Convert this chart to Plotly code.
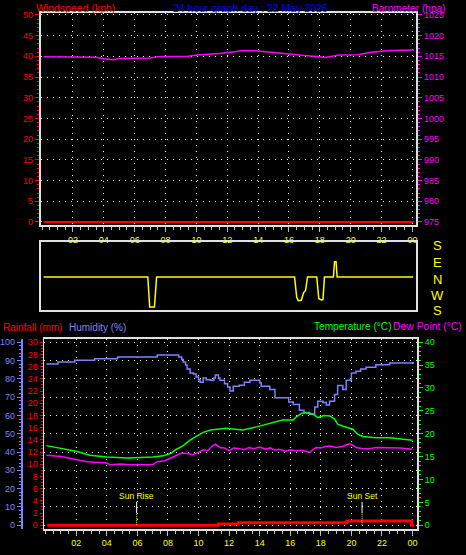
import plotly.graph_objects as go

# ---------------- data ----------------
hour_labels = ["02", "04", "06", "08", "10", "12", "14", "16", "18", "20", "22", "00"]
hour_ticks = [2, 4, 6, 8, 10, 12, 14, 16, 18, 20, 22, 24]

wind_hours = [0.1, 24.1]
wind_speed = [0, 0]

baro_hours = [0.1, 3.5, 4.0, 4.6, 5.0, 7.0, 7.5, 9.5, 10.0, 10.5, 11.5, 12.5, 13.0, 14.0,
              15.0, 16.0, 17.0, 18.0, 18.3, 19.3, 20.5, 21.2, 22.5, 24.1]
baro_hpa = [1014.9, 1014.8, 1014.4, 1014.2, 1014.5, 1014.6, 1014.9, 1015.0, 1015.3, 1015.4,
            1015.7, 1016.1, 1016.4, 1016.3, 1015.9, 1015.5, 1015.2, 1014.9, 1014.7, 1015.3,
            1015.4, 1015.9, 1016.4, 1016.5]

dir_hours = [0.1, 6.85, 6.97, 7.28, 7.42, 16.36, 16.5, 16.6, 16.8, 16.95, 17.07, 17.2,
             17.8, 17.93, 18.1, 18.2, 18.3, 18.88, 18.95, 19.05, 19.12, 24.05]
dir_deg = [0, 0, 201, 201, 0, 0, 252, 234, 236, 277, 287, 0,
           0, 244, 238, 240, 0, 0, 81, 81, 0, 0]

rain_hours = [0.1, 11.3, 12.6, 19.7, 23.95, 24.1]
rain_mm = [0.0, 0.2, 0.4, 0.7, 0.0, 0.0]

hum_hours = [0.05, 0.8, 1.9, 3.2, 4.7, 7.3, 8.7, 8.9, 9.0, 9.15, 9.25, 9.45, 9.67, 9.84,
             10.0, 10.1, 10.3, 10.5, 10.75, 11.0, 11.1, 11.3, 11.4, 11.7, 11.9, 12.06,
             12.27, 12.66, 13.0, 13.36, 14.0, 14.1, 14.66, 15.0, 15.5, 15.9, 16.2, 16.6,
             16.9, 17.27, 17.6, 17.8, 18.14, 18.36, 18.57, 18.9, 19.1, 19.44, 19.66, 20.0,
             20.3, 20.6, 20.96, 21.6, 22.5, 24.05]
hum_pct = [88.1, 89.2, 90.2, 91.0, 91.9, 93.0, 91.9, 90.5, 89.2, 87.5, 85.4, 83.2, 82.7,
           81.0, 79.5, 78.1, 80.5, 79.5, 79.2, 80.5, 82.1, 80.5, 79.2, 77.3, 75.5, 73.3,
           76.0, 76.5, 78.1, 79.2, 77.8, 76.0, 74.2, 69.7, 69.7, 67.3, 66.0, 62.8, 61.6,
           60.6, 64.6, 67.8, 67.0, 65.7, 67.8, 71.5, 76.3, 74.2, 79.2, 83.2, 84.1, 85.4,
           86.3, 87.7, 88.6, 89.2]

temp_hours = [0.05, 0.7, 1.2, 1.6, 2.07, 2.5, 2.9, 4.0, 5.4, 7.0, 7.7, 8.2, 8.5, 9.0, 9.4,
              9.85, 10.3, 10.8, 11.8, 12.4, 12.9, 13.8, 14.7, 15.5, 16.2, 16.4, 16.75,
              17.05, 17.5, 17.8, 18.2, 18.6, 18.9, 19.1, 19.5, 20.1, 20.4, 20.75, 21.6,
              22.5, 23.1, 24.0]
temp_c = [17.4, 17.0, 16.8, 16.5, 16.1, 15.7, 15.3, 14.9, 14.7, 14.9, 15.2, 15.7, 16.5,
          17.4, 18.5, 19.4, 20.3, 20.8, 21.2, 21.0, 20.8, 21.5, 22.3, 23.0, 23.0, 23.7,
          24.5, 24.6, 24.3, 23.5, 24.0, 23.9, 23.2, 22.1, 21.6, 21.0, 19.9, 19.4, 19.1,
          19.1, 18.9, 18.6]

dew_hours = [0.05, 1.0, 1.8, 2.7, 4.0, 4.2, 4.9, 5.5, 7.0, 7.3, 7.8, 8.3, 8.9, 9.3, 9.6,
             9.85, 10.3, 10.6, 10.9, 11.1, 11.4, 11.7, 12.0, 12.3, 12.6, 13.0, 13.3, 13.6,
             14.0, 14.4, 14.7, 15.0, 15.3, 15.7, 16.0, 16.4, 16.8, 17.3, 17.5, 17.7, 18.0,
             18.3, 18.6, 19.0, 19.4, 19.7, 19.9, 20.1, 20.3, 20.7, 21.2, 21.6, 22.5, 23.2,
             24.0]
dew_c = [15.3, 15.0, 14.5, 13.9, 13.6, 13.2, 13.4, 13.2, 13.2, 13.9, 14.1, 14.9, 15.8,
         15.7, 15.4, 15.7, 16.5, 16.3, 17.3, 17.7, 17.0, 16.9, 16.3, 16.9, 16.8, 16.5,
         17.0, 16.7, 17.1, 16.6, 16.9, 16.4, 16.6, 16.2, 16.5, 16.3, 16.4, 15.9, 16.6,
         17.0, 16.9, 17.2, 17.3, 17.0, 17.2, 17.6, 17.8, 17.5, 17.0, 16.8, 16.7, 17.0,
         17.0, 16.9, 16.6]

sun_rise = 5.95
sun_set = 20.7

# ---------------- helpers (layout only) ----------------
W, H = 466, 555


def px_x(v):
    return v / W


def px_y(v):
    return 1 - v / H


def compass_to_axis(d):
    return d if d <= 180 else d - 360


dir_plot = [compass_to_axis(d) for d in dir_deg]

FONT = "Liberation Sans, Arial, sans-serif"
LINE = "#e0e0e0"
GRID = dict(showgrid=True, gridcolor="#ffffff", gridwidth=1, griddash="1px,5px")
RED, MAG, GRN, YEL, HUM, BLU = "#ff0000", "#ff00ff", "#00ff00", "#ffff00", "#8080ff", "#0000ff"

fig = go.Figure()

# top panel
fig.add_trace(go.Scatter(x=baro_hours, y=baro_hpa, xaxis="x", yaxis="y2", mode="lines",
                         line=dict(color=MAG, width=1.5)))
fig.add_trace(go.Scatter(x=wind_hours, y=wind_speed, xaxis="x", yaxis="y", mode="lines",
                         line=dict(color=RED, width=2)))
# direction panel
fig.add_trace(go.Scatter(x=dir_hours, y=dir_plot, xaxis="x2", yaxis="y3", mode="lines",
                         line=dict(color=YEL, width=1.5)))
# bottom panel
fig.add_trace(go.Scatter(x=rain_hours, y=rain_mm, xaxis="x3", yaxis="y4", mode="lines",
                         line=dict(color=RED, width=3, shape="hv")))
fig.add_trace(go.Scatter(x=hum_hours, y=hum_pct, xaxis="x3", yaxis="y5", mode="lines",
                         line=dict(color=HUM, width=1.5, shape="hv")))
fig.add_trace(go.Scatter(x=temp_hours, y=temp_c, xaxis="x3", yaxis="y6", mode="lines",
                         line=dict(color=GRN, width=1.5)))
fig.add_trace(go.Scatter(x=dew_hours, y=dew_c, xaxis="x3", yaxis="y6", mode="lines",
                         line=dict(color=MAG, width=1.5)))

xtop = dict(domain=[px_x(40), px_x(417)], range=[-0.084, 24.245],
            tickvals=hour_ticks, ticktext=hour_labels,
            tickfont=dict(color=YEL, size=9), ticks="outside", ticklen=5, tickcolor="#c0c0c0",
            minor=dict(dtick=0.5, tick0=0, ticks="outside", ticklen=3, tickcolor="#c0c0c0",
                       showgrid=False),
            showline=True, linecolor=LINE, linewidth=2, mirror=True, zeroline=False, **GRID)

xbot = dict(xtop)
xbot.update(domain=[px_x(42.7), px_x(417.7)], range=[-0.143, 24.287], anchor="y4")

fig.update_layout(
    width=W, height=H, margin=dict(l=0, r=0, t=0, b=0),
    paper_bgcolor="#000000", plot_bgcolor="#000000", showlegend=False,
    font=dict(family=FONT, size=9),
    xaxis=dict(xtop, anchor="y"),
    yaxis=dict(domain=[px_y(224), px_y(10)], range=[-0.72, 50.48], anchor="x",
               tickvals=list(range(0, 51, 5)), tickfont=dict(color=RED, size=9),
               ticks="outside", ticklen=4, tickcolor=RED,
               minor=dict(dtick=1, ticks="outside", ticklen=2, tickcolor=RED, showgrid=False),
               showline=True, linecolor=LINE, linewidth=2, zeroline=False, **GRID),
    yaxis2=dict(overlaying="y", side="right", anchor="x", range=[974.28, 1025.48],
                tickvals=list(range(975, 1026, 5)), tickfont=dict(color=MAG, size=9),
                ticks="outside", ticklen=4, tickcolor=MAG,
                minor=dict(dtick=1, ticks="outside", ticklen=2, tickcolor=MAG, showgrid=False),
                showline=True, linecolor=LINE, linewidth=2, showgrid=False, zeroline=False),
    xaxis2=dict(domain=[px_x(40), px_x(417)], range=[-0.084, 24.245], anchor="y3",
                showticklabels=False, ticks="", showline=True, mirror=True, linecolor=LINE,
                linewidth=1.5, showgrid=False, zeroline=False),
    yaxis3=dict(domain=[px_y(309.3), px_y(241)], range=[-173, 187], anchor="x2",
                showticklabels=False, ticks="", showline=True, mirror=True, linecolor=LINE,
                linewidth=1.5, showgrid=False, zeroline=False),
    xaxis3=xbot,
    yaxis4=dict(domain=[px_y(530.3), px_y(339.5)], range=[-0.537, 30.456], anchor="x3",
                tickvals=list(range(0, 31, 2)), tickfont=dict(color=RED, size=9),
                ticks="outside", ticklen=3, tickcolor=RED,
                minor=dict(dtick=0.5, ticks="outside", ticklen=2, tickcolor=RED, showgrid=False),
                showline=True, linecolor=LINE, linewidth=1, showgrid=False, zeroline=False),
    yaxis5=dict(overlaying="y4", anchor="free", position=px_x(21), side="left",
                range=[-1.79, 101.52], tickvals=list(range(0, 101, 10)),
                tickfont=dict(color=HUM, size=9), ticks="outside", ticklen=4, tickcolor=HUM,
                minor=dict(dtick=2, ticks="outside", ticklen=2, tickcolor=HUM, showgrid=False),
                showline=True, linecolor=HUM, linewidth=2, zeroline=False, **GRID),
    yaxis6=dict(overlaying="y4", side="right", anchor="x3", range=[-0.716, 40.61],
                tickvals=list(range(0, 41, 5)), tickfont=dict(color=GRN, size=9),
                ticks="outside", ticklen=4, tickcolor=GRN,
                minor=dict(dtick=1, ticks="outside", ticklen=2, tickcolor=GRN, showgrid=False),
                showline=True, linecolor=LINE, linewidth=2, showgrid=False, zeroline=False),
)

ann = []


def label(text, x, y, color, size=10.5, xanchor="left"):
    ann.append(dict(text=text, x=px_x(x), y=px_y(y), xref="paper", yref="paper",
                    xanchor=xanchor, yanchor="middle", showarrow=False,
                    font=dict(color=color, size=size, family=FONT)))


label("Windspeed (kph)", 33.5, 5.5, RED, 10.5)
label("24 hour graph day : 22 May 2026", 171, 5.5, BLU, 10.5)
label("Barometer (hpa)", 371, 5.5, MAG, 10.1)
label("Rainfall (mm)", -0.5, 327, RED, 10)
label("Humidity (%)", 66, 327, HUM, 10)
label("Temperature (°C)", 312, 326.5, GRN, 10.1)
label("Dew Point (°C)", 391.5, 326.5, MAG, 10.4)

for t, yy in zip(["S", "E", "N", "W", "S"], [244.7, 262.3, 279.2, 294.7, 310.7]):
    label(t, 438.7, yy, YEL, 13, xanchor="center")

for name, t in (("Sun Rise", sun_rise), ("Sun Set", sun_set)):
    ann.append(dict(text=name, x=t, xref="x3", y=px_y(497.7), yref="paper",
                    xanchor="center", yanchor="middle", showarrow=False,
                    font=dict(color=YEL, size=8.5, family=FONT)))

shapes = []
for t in (sun_rise, sun_set):
    shapes.append(dict(type="line", xref="x3", yref="paper", x0=t, x1=t,
                       y0=px_y(515), y1=px_y(503.3), line=dict(color="#ffffff", width=1)))
    shapes.append(dict(type="line", xref="x3", yref="paper", x0=t, x1=t,
                       y0=px_y(527), y1=px_y(515), line=dict(color=YEL, width=1, dash="1px,1px")))

fig.update_layout(annotations=ann, shapes=shapes)

fig.write_html(
    "out.html",
    config={"displayModeBar": False},
    post_script="document.body.style.margin='0';document.body.style.padding='0';"
                "document.body.style.overflow='hidden';"
                "document.body.style.background='#000';",
)
